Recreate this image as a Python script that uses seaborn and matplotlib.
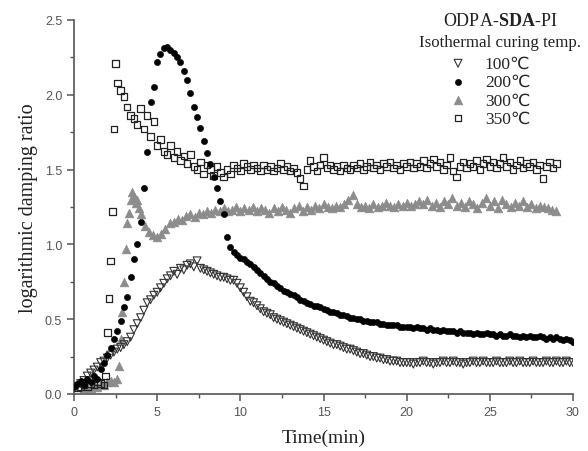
import numpy as np
import matplotlib
matplotlib.use("Agg")
import matplotlib.pyplot as plt
import seaborn as sns

# Datos (logarithmic damping ratio vs tiempo)
# 100 C: paso 0.2 min desde 0.2
v_100 = [0.05, 0.07, 0.09, 0.12, 0.14, 0.16, 0.18, 0.21, 0.22, 0.24,
         0.26, 0.28, 0.30, 0.31, 0.33, 0.35, 0.38, 0.43, 0.47, 0.51,
         0.56, 0.61, 0.63, 0.66, 0.68, 0.71, 0.74, 0.77, 0.79, 0.82,
         0.80, 0.84, 0.83, 0.86, 0.87, 0.85, 0.89, 0.84, 0.83, 0.82,
         0.81, 0.80, 0.79, 0.78, 0.78, 0.77, 0.76, 0.76, 0.74, 0.71,
         0.68, 0.65, 0.62, 0.61, 0.59, 0.57, 0.55, 0.54, 0.53, 0.51,
         0.50, 0.49, 0.48, 0.47, 0.46, 0.45, 0.44, 0.43, 0.42, 0.41,
         0.40, 0.39, 0.38, 0.37, 0.36, 0.35, 0.34, 0.33, 0.33, 0.32,
         0.31, 0.30, 0.30, 0.29, 0.28, 0.27, 0.27, 0.26, 0.25, 0.25,
         0.24, 0.24, 0.23, 0.23, 0.22, 0.22, 0.22, 0.21, 0.21, 0.21,
         0.21, 0.20, 0.21, 0.21, 0.22, 0.21, 0.21, 0.20, 0.21, 0.21,
         0.22, 0.21, 0.21, 0.22, 0.21, 0.21, 0.20, 0.21, 0.21, 0.22,
         0.21, 0.21, 0.22, 0.21, 0.21, 0.21, 0.22, 0.21, 0.21, 0.21,
         0.22, 0.21, 0.21, 0.22, 0.21, 0.21, 0.21, 0.22, 0.21, 0.21,
         0.21, 0.22, 0.21, 0.21, 0.22, 0.21, 0.21, 0.22, 0.21, 0.21]

# 200 C: paso 0.2 min desde 0
v_200 = [0.05, 0.07, 0.09, 0.06, 0.10, 0.08, 0.12, 0.10, 0.17, 0.21,
         0.26, 0.31, 0.37, 0.42, 0.49, 0.58, 0.65, 0.78, 0.90, 1.00,
         1.15, 1.38, 1.62, 1.95, 2.05, 2.22, 2.27, 2.31, 2.32, 2.30,
         2.28, 2.25, 2.22, 2.16, 2.10, 2.01, 1.92, 1.85, 1.78, 1.69,
         1.61, 1.54, 1.45, 1.38, 1.29, 1.20, 1.05, 0.98, 0.95, 0.93,
         0.91, 0.90, 0.88, 0.87, 0.85, 0.83, 0.81, 0.79, 0.77, 0.75,
         0.74, 0.72, 0.71, 0.69, 0.68, 0.67, 0.66, 0.65, 0.63, 0.62,
         0.61, 0.60, 0.59, 0.59, 0.58, 0.57, 0.56, 0.55, 0.55, 0.54,
         0.53, 0.53, 0.52, 0.51, 0.51, 0.50, 0.50, 0.49, 0.49, 0.48,
         0.48, 0.48, 0.47, 0.47, 0.46, 0.46, 0.46, 0.46, 0.45, 0.45,
         0.45, 0.45, 0.44, 0.45, 0.44, 0.44, 0.43, 0.44, 0.43, 0.43,
         0.42, 0.43, 0.42, 0.42, 0.42, 0.41, 0.42, 0.41, 0.41, 0.41,
         0.40, 0.41, 0.40, 0.40, 0.41, 0.40, 0.40, 0.39, 0.40, 0.39,
         0.39, 0.40, 0.39, 0.39, 0.38, 0.39, 0.38, 0.39, 0.38, 0.38,
         0.39, 0.38, 0.37, 0.38, 0.37, 0.38, 0.37, 0.36, 0.37, 0.36,
         0.35]

# 300 C: tramo inicial (paso 0.2 desde 0.6), subida (paso 0.1 desde 2.7), meseta (paso 0.25 desde 4.0)
v_300_a = [0.04, 0.05, 0.04, 0.06, 0.05, 0.07, 0.06, 0.08, 0.09, 0.08, 0.10]
v_300_b = [0.19, 0.37, 0.55, 0.75, 0.97, 1.14, 1.21, 1.30, 1.35, 1.32, 1.28, 1.30, 1.24]
v_300_c = [1.20, 1.12, 1.08, 1.06, 1.05, 1.07, 1.10, 1.14, 1.15, 1.17, 1.16, 1.19,
           1.20, 1.18, 1.21, 1.20, 1.22, 1.21, 1.23, 1.22, 1.24, 1.22, 1.23, 1.25,
           1.22, 1.24, 1.23, 1.25, 1.22, 1.24, 1.23, 1.21, 1.24, 1.22, 1.25, 1.23,
           1.21, 1.24, 1.26, 1.22, 1.25, 1.23, 1.26, 1.24, 1.27, 1.25, 1.24, 1.26,
           1.25, 1.27, 1.30, 1.33, 1.27, 1.25, 1.26, 1.24, 1.27, 1.25, 1.26, 1.28,
           1.26, 1.25, 1.27, 1.26, 1.28, 1.26, 1.27, 1.29, 1.27, 1.30, 1.26, 1.28,
           1.25, 1.29, 1.27, 1.31, 1.26, 1.28, 1.25, 1.29, 1.27, 1.24, 1.28, 1.31,
           1.26, 1.29, 1.24, 1.30, 1.27, 1.25, 1.28, 1.26, 1.29, 1.25, 1.27, 1.24,
           1.26, 1.25, 1.24, 1.23, 1.22]

# 350 C: tramo inicial (paso 0.2 desde 0.2), salto (paso 0.1 desde 1.9), resto (paso 0.2 desde 2.6)
v_350_a = [0.04, 0.05, 0.06, 0.05, 0.07, 0.06, 0.08, 0.07, 0.06]
v_350_b = [0.12, 0.41, 0.64, 0.89, 1.22, 1.77, 2.21]
v_350_c = [2.08, 2.03, 1.99, 1.92, 1.86, 1.84, 1.80, 1.91, 1.77, 1.86,
           1.72, 1.82, 1.66, 1.70, 1.62, 1.60, 1.66, 1.58, 1.62, 1.56,
           1.59, 1.54, 1.60, 1.52, 1.50, 1.55, 1.47, 1.53, 1.50, 1.46,
           1.52, 1.48, 1.45, 1.50, 1.47, 1.53, 1.51, 1.49, 1.54, 1.52,
           1.50, 1.53, 1.51, 1.49, 1.53, 1.50, 1.52, 1.49, 1.51, 1.54,
           1.50, 1.52, 1.49, 1.51, 1.48, 1.44, 1.39, 1.50, 1.56, 1.52,
           1.49, 1.53, 1.58, 1.51, 1.53, 1.50, 1.52, 1.49, 1.53, 1.51,
           1.50, 1.53, 1.51, 1.54, 1.50, 1.52, 1.55, 1.51, 1.53, 1.50,
           1.54, 1.52, 1.55, 1.51, 1.53, 1.50, 1.54, 1.52, 1.55, 1.51,
           1.54, 1.52, 1.56, 1.51, 1.54, 1.57, 1.52, 1.55, 1.50, 1.53,
           1.58, 1.49, 1.45, 1.52, 1.55, 1.51, 1.54, 1.52, 1.56, 1.50,
           1.54, 1.57, 1.52, 1.55, 1.51, 1.54, 1.58, 1.52, 1.55, 1.50,
           1.53, 1.56, 1.51, 1.54, 1.52, 1.55, 1.50, 1.53, 1.44, 1.52,
           1.55, 1.51, 1.54]

labels = ["100\u2103", "200\u2103", "300\u2103", "350\u2103"]

# ejes de tiempo (min)
t_100 = 0.2 + 0.2 * np.arange(len(v_100))
t_200 = 0.0 + 0.2 * np.arange(len(v_200))
t_300 = np.concatenate([0.6 + 0.2 * np.arange(len(v_300_a)),
                        2.7 + 0.1 * np.arange(len(v_300_b)),
                        4.0 + 0.25 * np.arange(len(v_300_c))])
v_300 = v_300_a + v_300_b + v_300_c
t_350 = np.concatenate([0.2 + 0.2 * np.arange(len(v_350_a)),
                        1.9 + 0.1 * np.arange(len(v_350_b)),
                        2.6 + 0.2 * np.arange(len(v_350_c))])
v_350 = v_350_a + v_350_b + v_350_c

sns.set_style("ticks")
serif = ["Liberation Serif", "DejaVu Sans"]
plt.rcParams["mathtext.fontset"] = "custom"
plt.rcParams["mathtext.rm"] = "Liberation Serif"
plt.rcParams["mathtext.bf"] = "Liberation Serif:bold"

fig = plt.figure(figsize=(5.88, 4.52), dpi=100)
ax = fig.add_axes([74 / 588, 57 / 452, 499 / 588, 374 / 452])

# series
sns.scatterplot(x=t_300, y=v_300, ax=ax, marker="^", color="#8c8c8c", edgecolor="#8c8c8c",
                s=40, linewidth=0.4, label=labels[2], zorder=2)
sns.scatterplot(x=t_350, y=v_350, ax=ax, marker="s", facecolors="none", edgecolor="#222222",
                s=22, linewidth=0.9, label=labels[3], zorder=3)
sns.scatterplot(x=t_100, y=v_100, ax=ax, marker="v", facecolors="none", edgecolor="#333333",
                s=32, linewidth=0.8, label=labels[0], zorder=3)
sns.scatterplot(x=t_200, y=v_200, ax=ax, marker="o", color="black", edgecolor="black",
                s=20, linewidth=0.4, label=labels[1], zorder=4)

ax.set_xlim(0, 30)
ax.set_ylim(0, 2.5)
ax.set_xticks(np.arange(0, 31, 5))
ax.set_xticks(np.arange(0, 31, 2.5), minor=True)
ax.set_yticks(np.arange(0, 2.51, 0.5))
ax.set_yticks(np.arange(0, 2.51, 0.25), minor=True)
ax.set_yticklabels(["0.0", "0.5", "1.0", "1.5", "2.0", "2.5"])

for side in ["top", "right"]:
    ax.spines[side].set_visible(False)
for side in ["left", "bottom"]:
    ax.spines[side].set_color("#555555")
    ax.spines[side].set_linewidth(1.2)
ax.tick_params(which="major", direction="out", length=5, width=1.1, color="#555555",
               labelcolor="#555555", labelsize=9)
ax.tick_params(which="minor", direction="out", length=3, width=1.0, color="#555555")
for lab in ax.get_xticklabels() + ax.get_yticklabels():
    lab.set_family("Liberation Sans")

ax.set_xlabel("Time(min)", family=serif, fontsize=14, color="#222222", labelpad=8)
ax.set_ylabel("logarithmic damping ratio", family=serif, fontsize=14.5, color="#222222", labelpad=5)

# leyenda
handles, labs = ax.get_legend_handles_labels()
order = [labs.index(l) for l in labels]
leg = ax.legend([handles[i] for i in order], [labs[i] for i in order],
                loc="upper left", bbox_to_anchor=(432 / 588, 1 - 48 / 452),
                bbox_transform=fig.transFigure, frameon=False, handletextpad=0.55,
                labelspacing=0.12, borderpad=0, prop={"family": serif, "size": 12.5})
fig.text(500 / 588, 1 - 22 / 452, r"ODPA-$\mathbf{SDA}$-PI", ha="center", va="center",
         family=serif, fontsize=13, color="#222222")
fig.text(419 / 588, 1 - 43 / 452, "Isothermal curing temp.", ha="left", va="center",
         family=serif, fontsize=12.2, color="#222222")

fig.savefig("out.png", dpi=100)
